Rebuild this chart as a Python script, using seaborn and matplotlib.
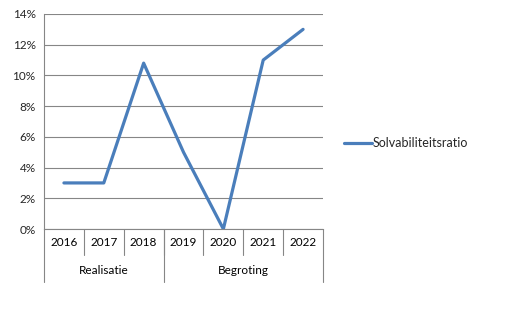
import matplotlib
matplotlib.use("Agg")
import matplotlib.pyplot as plt
import matplotlib.transforms as mtransforms
import seaborn as sns
import pandas as pd

years = ["2016", "2017", "2018", "2019", "2020", "2021", "2022"]
values = [3.0, 3.0, 10.8, 5.0, 0.0, 11.0, 13.0]
groups = ["Realisatie", "Begroting"]
group_sizes = [3, 4]
series_name = "Solvabiliteitsratio"
yticks = [0, 2, 4, 6, 8, 10, 12, 14]

sns.set_style("white")
plt.rcParams["font.family"] = ["Lato", "DejaVu Sans"]

df = pd.DataFrame({"year": years, "value": values, "series": series_name})

fig = plt.figure(figsize=(5.10, 3.11), dpi=100)
W, H = 510, 311
left, right, top, bottom = 44, 323, 14, 229
ax = fig.add_axes([left / W, 1 - bottom / H, (right - left) / W, (bottom - top) / H])

line_color = "#4A7EBB"
grid_color = "#868686"
sns.lineplot(data=df, x="year", y="value", hue="series", palette=[line_color],
             linewidth=2.3, ax=ax, sort=False)

ax.set_xlim(-0.5, len(years) - 0.5)
ax.set_ylim(0, 14)
ax.set_yticks(yticks)
ax.set_yticklabels([f"{v}%" for v in yticks], fontsize=8.5)
ax.yaxis.grid(True, color=grid_color, linewidth=0.8)
ax.set_axisbelow(True)
for s in ["top", "right"]:
    ax.spines[s].set_visible(False)
ax.spines["left"].set_color(grid_color)
ax.spines["bottom"].set_color(grid_color)
ax.spines["left"].set_linewidth(0.8)
ax.spines["bottom"].set_linewidth(0.8)
ax.tick_params(axis="y", length=4, color=grid_color, width=0.8, pad=2)
ax.set_xticks([])
ax.set_xlabel("")
ax.set_ylabel("")

ah = bottom - top
trans = mtransforms.blended_transform_factory(ax.transData, ax.transAxes)
y_year = -13 / ah
y_sep = -26 / ah
y_group = -41 / ah
y_outer = -53 / ah

for i, yr in enumerate(years):
    ax.text(i, y_year, yr, transform=trans, ha="center", va="center", fontsize=8.5, color="black")
for i in range(1, len(years)):
    ax.plot([i - 0.5, i - 0.5], [0, y_sep], transform=trans, color=grid_color, lw=0.8, clip_on=False)

start = 0
boundaries = [-0.5]
for g, n in zip(groups, group_sizes):
    center = start + (n - 1) / 2
    ax.text(center, y_group, g, transform=trans, ha="center", va="center", fontsize=8.5, color="black")
    start += n
    boundaries.append(start - 0.5)
for b in boundaries:
    ax.plot([b, b], [0, y_outer], transform=trans, color=grid_color, lw=0.8, clip_on=False)

leg = ax.legend(loc="center left", bbox_to_anchor=(338 / W, 1 - 143 / H), bbox_transform=fig.transFigure,
                frameon=False, fontsize=9, handlelength=2.2, handletextpad=0.1, borderpad=0)
for h in leg.get_lines():
    h.set_linewidth(2.3)

fig.savefig("out.png", dpi=100)
